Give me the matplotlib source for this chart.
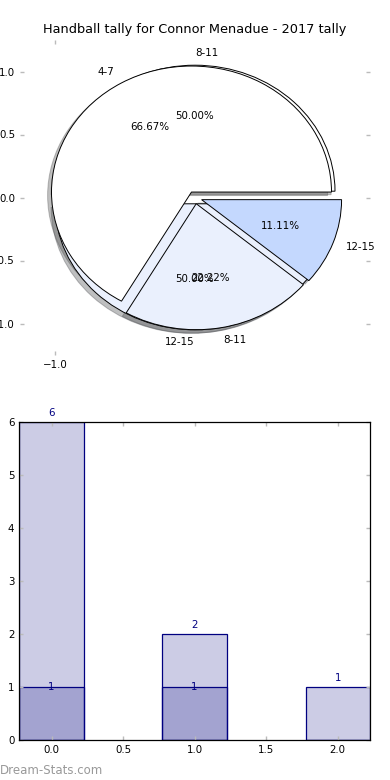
import matplotlib
matplotlib.use("Agg")
import matplotlib.pyplot as plt
import numpy as np

title = "Handball tally for Connor Menadue - 2017 tally"
pie1_labels = ["4-7", "8-11", "12-15"]
pie1_values = [6, 2, 1]
pie2_labels = ["8-11", "12-15"]
pie2_values = [1, 1]
pie_colors = ["#FFFFFF", "#EAF0FD", "#C4D8FE"]

bar_positions = [0, 1, 2]
bar_a_values = [6, 2, 1]
bar_b_values = [1, 1, 0]

FS = 7.4
fig = plt.figure(figsize=(3.9, 7.8), dpi=100)

# ---------- pie ----------
ax1 = fig.add_axes([20/390, 1-355/780, 350/390, 315/780])
wp = dict(edgecolor="black", linewidth=0.7)
tp = dict(fontsize=FS)
shadow = dict(ox=-0.02, oy=-0.02, alpha=0.35)
w2, t2, a2 = ax1.pie(pie2_values, labels=pie2_labels, colors=pie_colors[:2],
                     explode=[0.05]*len(pie2_values), shadow=shadow, autopct="%1.2f%%",
                     wedgeprops=wp, textprops=tp, frame=True)
t2[0].set_ha("left")
t2[1].set_ha("right")
ax1.pie(pie1_values, labels=pie1_labels, colors=pie_colors[:3],
        explode=[0.05]*len(pie1_values), shadow=shadow, autopct="%1.2f%%",
        wedgeprops=wp, textprops=tp, frame=True)
ax1.set_aspect("auto")
ax1.set_xlim(-1.25, 1.25)
ax1.set_ylim(-1.25, 1.25)
ax1.set_frame_on(False)
ax1.set_xticks([-1.0])
ax1.set_xticklabels(["\u22121.0"])
ax1.set_yticks([-1.0, -0.5, 0.0, 0.5, 1.0])
ax1.set_yticklabels(["\u22121.0", "\u22120.5", "0.0", "0.5", "1.0"])
ax1.tick_params(direction="in", length=3, color="#BBBBBB", width=1,
                labelsize=FS, top=True, right=True, pad=3.5)
ax1.set_title(title, fontsize=9.3, pad=5)

# ---------- bars ----------
ax2 = fig.add_axes([19.3/390, 1-740/780, 350.7/390, 318.3/780])
bw = 0.45
navy = "#000080"
ax2.bar(bar_positions, bar_a_values, width=bw, facecolor=(0, 0, 0.5, 0.2),
        edgecolor=navy, linewidth=0.9)
ax2.bar(bar_positions, bar_b_values, width=bw, facecolor=(0, 0, 0.5, 0.2),
        edgecolor=navy, linewidth=0.9)
for x, h in zip(bar_positions, bar_a_values):
    ax2.annotate(str(h), (x, h), xytext=(0, 3), textcoords="offset points",
                 ha="center", va="bottom", fontsize=FS, color=navy)
for x, h in zip(bar_positions, bar_b_values):
    if h > 0:
        ax2.annotate(str(h), (x, h), ha="center", va="center",
                     fontsize=FS, color=navy)
ax2.set_xlim(-0.225, 2.225)
ax2.set_ylim(0, 6)
ax2.set_xticks([0.0, 0.5, 1.0, 1.5, 2.0])
ax2.set_yticks(range(0, 7))
ax2.tick_params(direction="in", length=3, color="#BBBBBB", width=1,
                labelsize=FS, top=True, right=True, pad=3.5)
for s in ax2.spines.values():
    s.set_linewidth(0.9)
    s.set_color("black")

fig.text(0.0, 1-770/780, "Dream-Stats.com", fontsize=8.5, color="#999999",
         ha="left", va="center")

fig.savefig("out.png", dpi=100)
